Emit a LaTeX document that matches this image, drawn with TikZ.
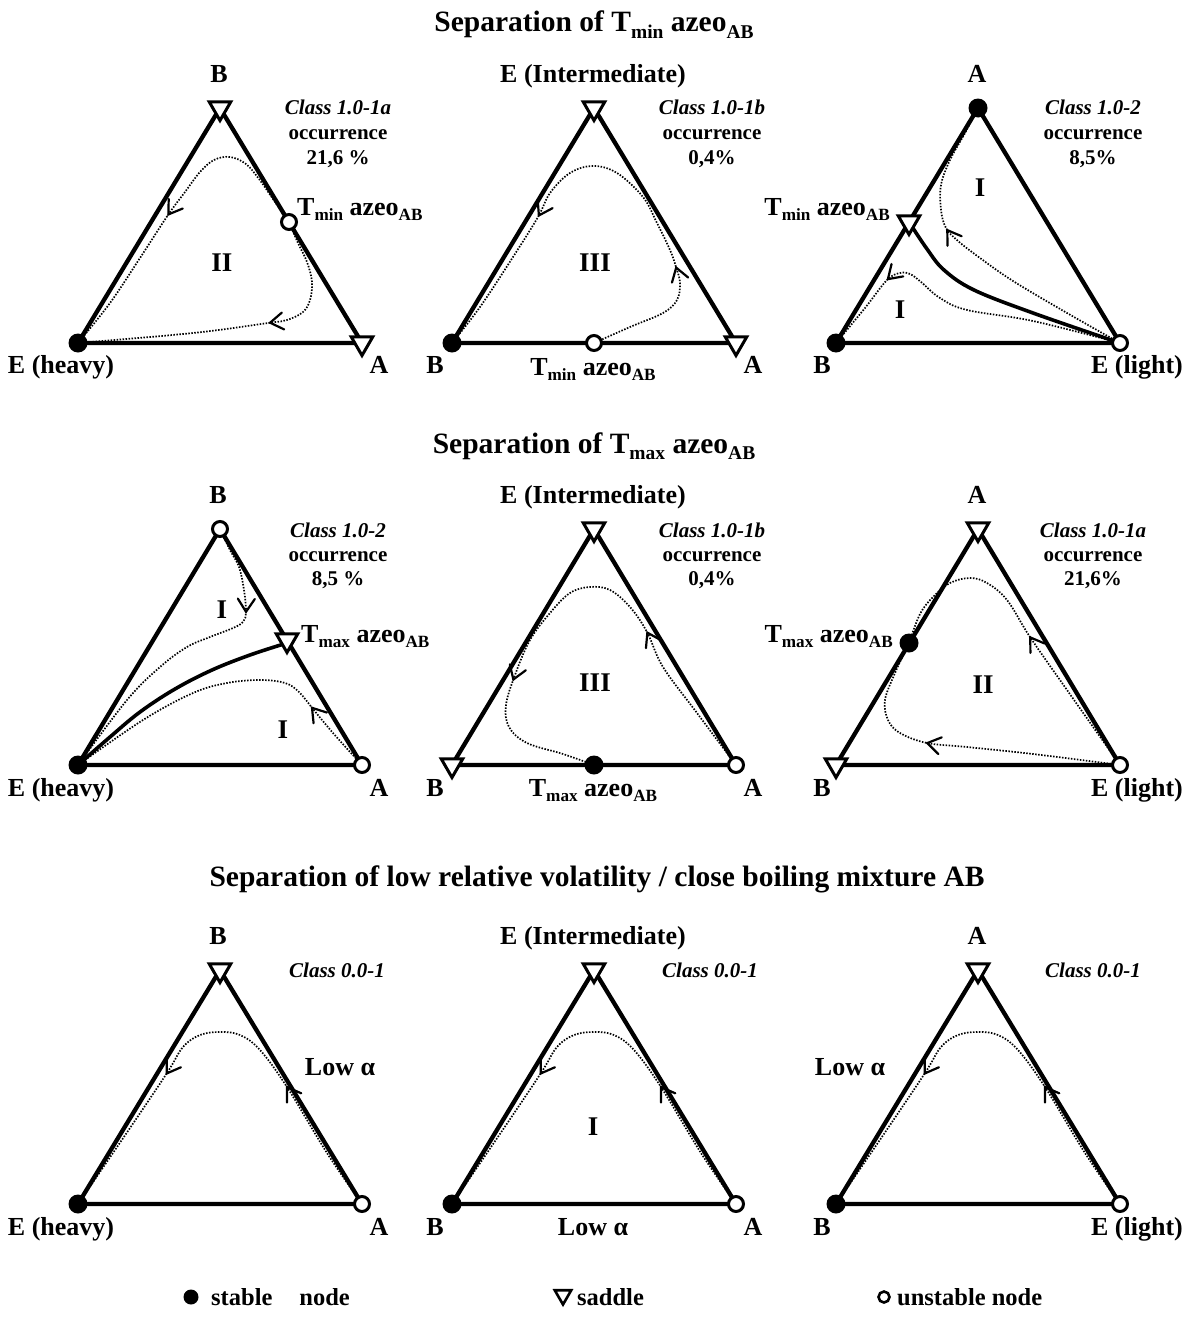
\documentclass[tikz,border=0pt]{standalone}
\usepackage{fontspec}
\setmainfont{Liberation Serif}
\usepackage{graphicx}
\usetikzlibrary{shapes.geometric,arrows.meta,decorations.markings}
\newcommand\mysub[1]{\raisebox{-0.22em}{\scalebox{0.66}{#1}}}
\newcommand\fsz[1]{\fontsize{#1}{#1}\selectfont}
\tikzset{
  side/.style={line width=4.3pt, line join=round},
  sepx/.style={line width=3.6pt, line cap=round, line join=round},
  res/.style={line width=1.7pt, dash pattern=on 1.5pt off 1.5pt},
  chev/.style={solid, line width=2.2pt, line cap=round, line join=miter},
  arrowat/.style={postaction={decorate, decoration={markings, mark=at position #1 with {\draw[chev] (-13pt,8.5pt) -- (0pt,0pt) -- (-13pt,-8.5pt);}}}},
  stab/.style={circle, fill=black, inner sep=0pt, minimum size=19pt},
  unst/.style={circle, draw=black, fill=white, line width=3pt, inner sep=0pt, minimum size=15pt},
  sadd/.style={regular polygon, regular polygon sides=3, shape border rotate=180, draw=black, fill=white, line width=3pt, inner sep=0pt, minimum size=25pt},
  lab/.style={font={\fsz{26}\bfseries}, inner sep=0pt, anchor=base},
  ttl/.style={font={\fsz{29.5}\bfseries}, inner sep=0pt, anchor=base},
  cls/.style={font={\fsz{21}\bfseries}, inner sep=0pt, anchor=base},
  reg/.style={font={\fsz{27}\bfseries}, inner sep=0pt},
  leg/.style={font={\fsz{24.5}\bfseries}, inner sep=0pt, anchor=base west},
}
\begin{document}
\begin{tikzpicture}[x=1pt,y=-1pt]
\fill[white] (0,0) rectangle (1194,1322);
\useasboundingbox (0,0) rectangle (1194,1322);

% titles
\node[ttl] (ttl1) at (594,32) {Separation of T\mysub{min} azeo\mysub{AB}};
\node[ttl] (ttl2) at (594,453) {Separation of T\mysub{max} azeo\mysub{AB}};
\node[ttl] (ttl3) at (597,886) {Separation of low relative volatility / close boiling mixture AB};

% ===== Row 1, panel 1
\draw[side] (78,343) -- (220,108) -- (362,343) -- cycle;
\draw[res, arrowat=178pt] plot[smooth, tension=0.6] coordinates {(289,222) (273,199) (259,179) (246,164) (230,157) (214,160) (200,172) (185,192) (168,215) (140,258) (110,303) (78,343)};
\draw[res, arrowat=132pt] plot[smooth, tension=0.6] coordinates {(289,222) (298,243) (307,262) (312,282) (310,300) (303,312) (287,320) (268,323) (193,333) (78,343)};
\node[stab] (p1E) at (78,343) {};
\node[sadd] (p1B) at (220,108) {};
\node[sadd] (p1A) at (362,343) {};
\node[unst] (p1Z) at (289,222) {};
\node[lab] (l1B) at (219,82) {B};
\node[lab] (l1E) at (61,373) {E (heavy)};
\node[lab] (l1A) at (379,373) {A};
\node[lab, anchor=base west] (l1Z) at (297,215) {T\mysub{min} azeo\mysub{AB}};
\node[reg] (g1) at (222,263) {II};
\node[cls] (c1a) at (338,114) {\textit{Class 1.0-1a}};
\node[cls] (c1b) at (338,139) {occurrence};
\node[cls] (c1c) at (338,164) {21,6 \%};

% ===== Row 1, panel 2
\draw[side] (452,343) -- (594,108) -- (736,343) -- cycle;
\draw[res, arrowat=128pt, arrowat=345pt] plot[smooth, tension=0.6] coordinates {(594,343) (630,327) (663,313) (677,300) (680,283) (676,267) (670,250) (657,223) (643,197) (617,173) (593,166) (570,173) (550,193) (538,217) (513,257) (480,307) (452,343)};
\node[stab] (p2B) at (452,343) {};
\node[sadd] (p2E) at (594,108) {};
\node[sadd] (p2A) at (736,343) {};
\node[unst] (p2Z) at (594,343) {};
\node[lab] (l2E) at (593,82) {E (Intermediate)};
\node[lab] (l2B) at (435,373) {B};
\node[lab] (l2A) at (753,373) {A};
\node[lab] (l2Z) at (593,375) {T\mysub{min} azeo\mysub{AB}};
\node[reg] (g2) at (595,263) {III};
\node[cls] (c2a) at (712,114) {\textit{Class 1.0-1b}};
\node[cls] (c2b) at (712,139) {occurrence};
\node[cls] (c2c) at (712,164) {0,4\%};

% ===== Row 1, panel 3
\draw[side] (836,343) -- (978,108) -- (1120,343) -- cycle;
\draw[sepx] plot[smooth, tension=0.6] coordinates {(909,222) (927,249) (944,270) (974,290) (1033,313) (1120,343)};
\draw[res, arrowat=207pt] plot[smooth, tension=0.6] coordinates {(1120,343) (1067,313) (1013,281) (980,258) (958,241) (946,228) (941,210) (941,185) (950,160) (965,133) (978,108)};
\draw[res, arrowat=249pt] plot[smooth, tension=0.6] coordinates {(1120,343) (1033,321) (967,310) (940,298) (921,282) (910,274) (900,273) (887,280) (865,308) (836,343)};
\node[stab] (p3A) at (978,108) {};
\node[stab] (p3B) at (836,343) {};
\node[unst] (p3E) at (1120,343) {};
\node[sadd] (p3Z) at (909,222) {};
\node[lab] (l3A) at (977,82) {A};
\node[lab] (l3B) at (822,373) {B};
\node[lab] (l3E) at (1137,373) {E (light)};
\node[lab, anchor=base east] (l3Z) at (890,215) {T\mysub{min} azeo\mysub{AB}};
\node[reg] (g3a) at (980,188) {I};
\node[reg] (g3b) at (900,310) {I};
\node[cls] (c3a) at (1093,114) {\textit{Class 1.0-2}};
\node[cls] (c3b) at (1093,139) {occurrence};
\node[cls] (c3c) at (1093,164) {8,5\%};

% ===== Row 2, panel 1
\draw[side] (78,765) -- (220,529) -- (362,765) -- cycle;
\draw[sepx] plot[smooth, tension=0.6] coordinates {(78,765) (110,737) (140,712) (175,689) (212,670) (250,655) (287,643)};
\draw[res, arrowat=88pt] plot[smooth, tension=0.6] coordinates {(220,529) (230,550) (239,567) (244,590) (246,612) (243,622) (233,628) (210,637) (187,647) (160,667) (127,700) (78,765)};
\draw[res, arrowat=76pt] plot[smooth, tension=0.6] coordinates {(362,765) (333,733) (313,709) (299,692) (285,683) (260,680) (227,683) (193,693) (143,720) (78,765)};
\node[unst] (q1B) at (220,529) {};
\node[stab] (q1E) at (78,765) {};
\node[unst] (q1A) at (362,765) {};
\node[sadd] (q1Z) at (287,640) {};
\node[lab] (m1B) at (218,503) {B};
\node[lab] (m1E) at (61,796) {E (heavy)};
\node[lab] (m1A) at (379,796) {A};
\node[lab, anchor=base west] (m1Z) at (301,642) {T\mysub{max} azeo\mysub{AB}};
\node[reg] (h1a) at (222,610) {I};
\node[reg] (h1b) at (283,730) {I};
\node[cls] (d1a) at (338,537) {\textit{Class 1.0-2}};
\node[cls] (d1b) at (338,561) {occurrence};
\node[cls] (d1c) at (338,585) {8,5 \%};

% ===== Row 2, panel 2
\draw[side] (452,765) -- (594,529) -- (736,765) -- cycle;
\draw[res, arrowat=160pt, arrowat=364pt] plot[smooth, tension=0.6] coordinates {(736,765) (697,713) (663,667) (647,632) (630,607) (610,590) (590,587) (570,593) (550,613) (530,640) (515,675) (506,705) (509,727) (527,743) (563,754) (594,765)};
\node[sadd] (q2E) at (594,529) {};
\node[sadd] (q2B) at (452,765) {};
\node[unst] (q2A) at (736,765) {};
\node[stab] (q2Z) at (594,765) {};
\node[lab] (m2E) at (593,503) {E (Intermediate)};
\node[lab] (m2B) at (435,796) {B};
\node[lab] (m2A) at (753,796) {A};
\node[lab] (m2Z) at (593,796) {T\mysub{max} azeo\mysub{AB}};
\node[reg] (h2) at (595,683) {III};
\node[cls] (d2a) at (712,537) {\textit{Class 1.0-1b}};
\node[cls] (d2b) at (712,561) {occurrence};
\node[cls] (d2c) at (712,585) {0,4\%};

% ===== Row 2, panel 3
\draw[side] (836,765) -- (978,529) -- (1120,765) -- cycle;
\draw[res, arrowat=156pt] plot[smooth, tension=0.6] coordinates {(1120,765) (1067,690) (1030,637) (1007,600) (987,583) (970,578) (950,583) (933,597) (920,614) (909,643)};
\draw[res, arrowat=194pt] plot[smooth, tension=0.6] coordinates {(1120,765) (1033,754) (967,747) (927,743) (900,733) (888,720) (885,700) (895,673) (909,643)};
\node[sadd] (q3A) at (978,529) {};
\node[sadd] (q3B) at (836,765) {};
\node[unst] (q3E) at (1120,765) {};
\node[stab] (q3Z) at (909,643) {};
\node[lab] (m3A) at (977,503) {A};
\node[lab] (m3B) at (822,796) {B};
\node[lab] (m3E) at (1137,796) {E (light)};
\node[lab, anchor=base east] (m3Z) at (893,642) {T\mysub{max} azeo\mysub{AB}};
\node[reg] (h3) at (983,685) {II};
\node[cls] (d3a) at (1093,537) {\textit{Class 1.0-1a}};
\node[cls] (d3b) at (1093,561) {occurrence};
\node[cls] (d3c) at (1093,585) {21,6\%};

% ===== Row 3 (three panels)
\foreach \dx/\nm in {0/a,374/b,758/c}{
\begin{scope}[xshift=\dx pt]
\draw[side] (78,1204) -- (220,970) -- (362,1204) -- cycle;
\draw[res, arrowat=139pt, arrowat=303pt] plot[smooth, tension=0.6] coordinates {(362,1204) (327,1153) (287,1087) (260,1050) (240,1035) (220,1032) (200,1035) (183,1047) (167,1073) (130,1128) (78,1204)};
\node[sadd] (s\nm T) at (220,970) {};
\node[stab] (s\nm L) at (78,1204) {};
\node[unst] (s\nm R) at (362,1204) {};
\end{scope}
}
\node[lab] (n1B) at (218,944) {B};
\node[lab] (n1E) at (61,1235) {E (heavy)};
\node[lab] (n1A) at (379,1235) {A};
\node[reg, font={\fsz{26}\bfseries}] (n1L) at (340,1067) {Low α};
\node[cls] (e1) at (337,977) {\textit{Class 0.0-1}};

\node[lab] (n2E) at (593,944) {E (Intermediate)};
\node[lab] (n2B) at (435,1235) {B};
\node[lab] (n2A) at (753,1235) {A};
\node[lab] (n2L) at (593,1235) {Low α};
\node[reg] (n2I) at (593,1127) {I};
\node[cls] (e2) at (710,977) {\textit{Class 0.0-1}};

\node[lab] (n3A) at (977,944) {A};
\node[lab] (n3B) at (822,1235) {B};
\node[lab] (n3E) at (1137,1235) {E (light)};
\node[reg, font={\fsz{26}\bfseries}] (n3L) at (850,1067) {Low α};
\node[cls] (e3) at (1093,977) {\textit{Class 0.0-1}};

% ===== legend
\node[stab, minimum size=15pt] (k1) at (191,1297) {};
\node[leg] (k1t) at (211,1305) {stable\hspace{1.1em}node};
\node[sadd, minimum size=19pt, line width=2.6pt] (k2) at (563,1295) {};
\node[leg] (k2t) at (577,1305) {saddle};
\node[unst, minimum size=11pt, line width=2.6pt] (k3) at (884,1297) {};
\node[leg] (k3t) at (897,1305) {unstable node};
\end{tikzpicture}
\end{document}
